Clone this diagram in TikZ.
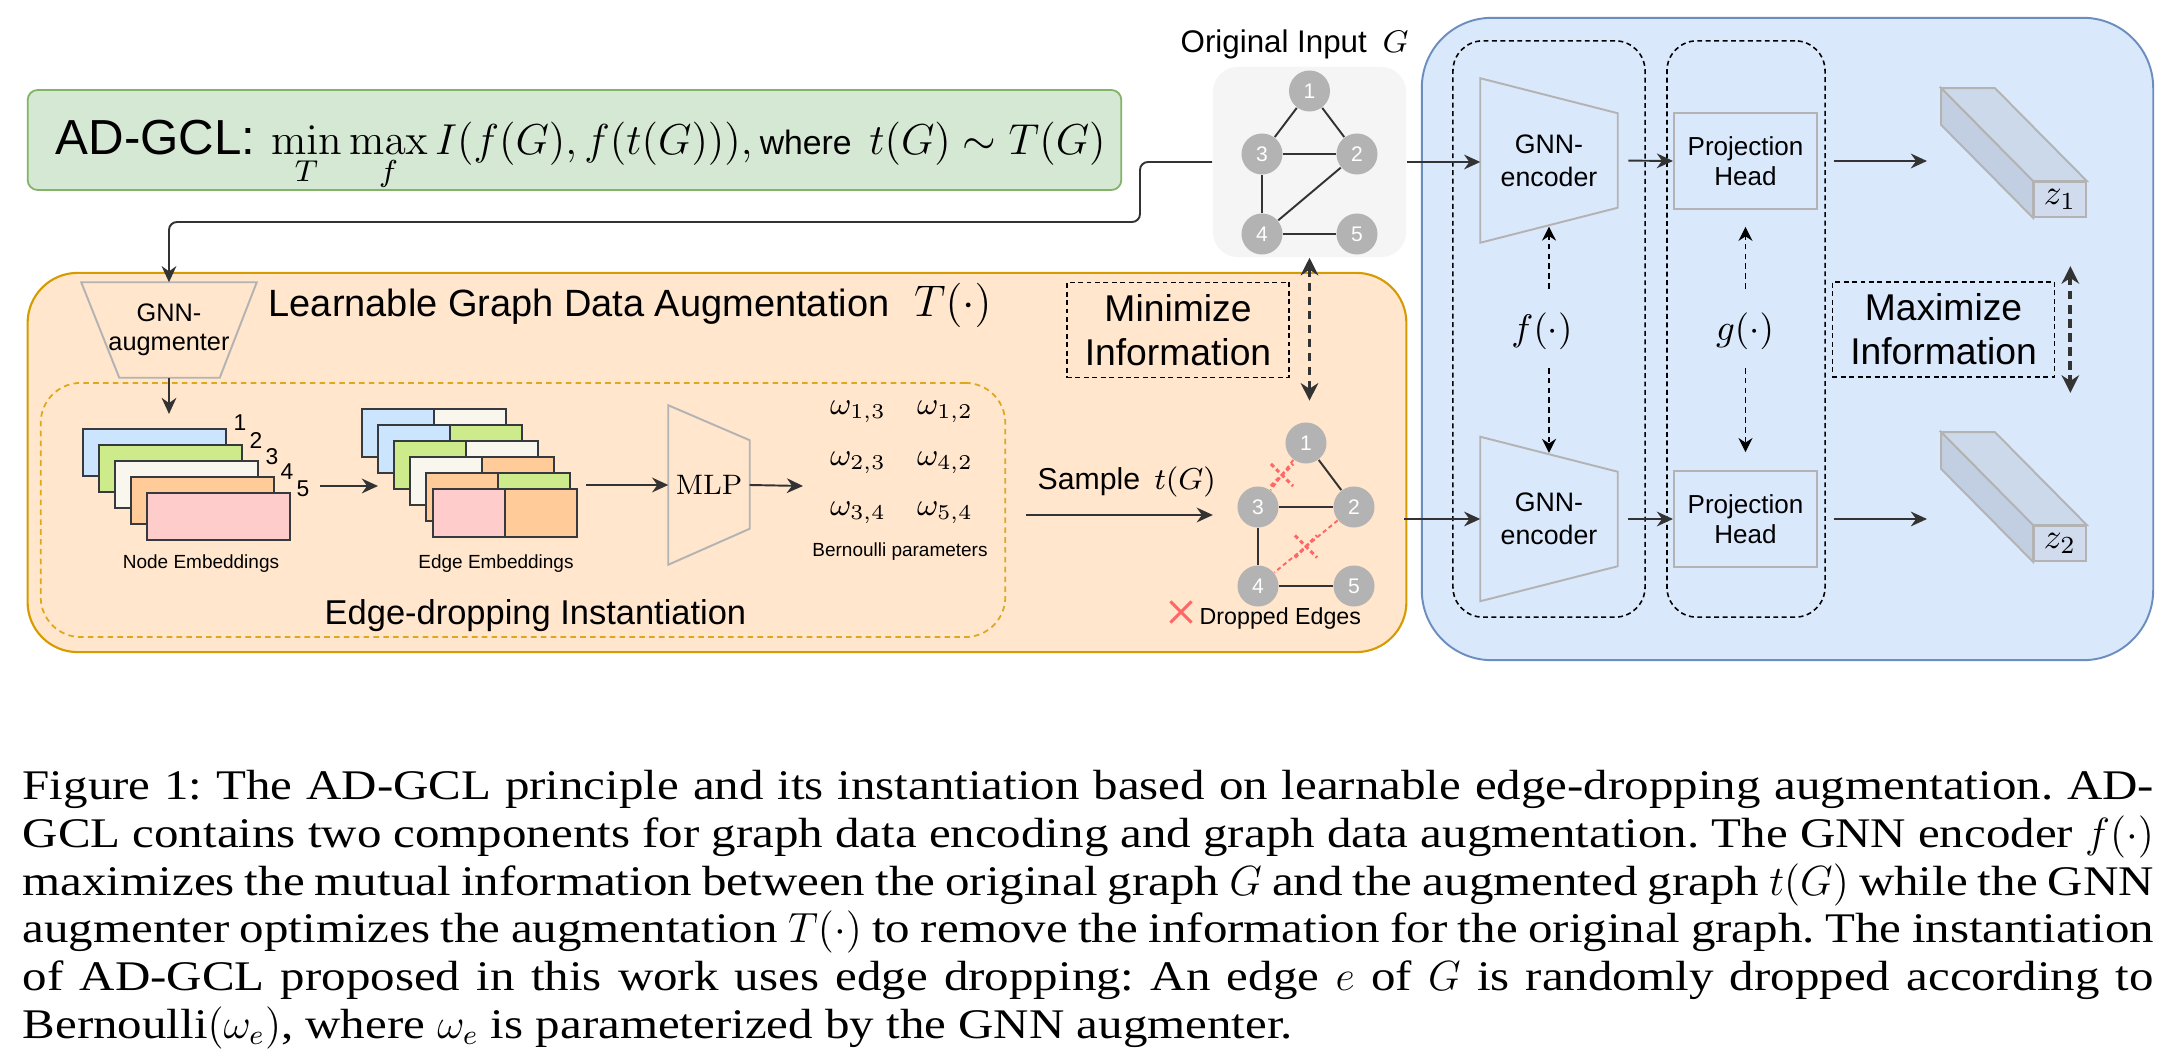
\RequirePackage{fix-cm}
\documentclass[tikz,border=0pt]{standalone}
\usepackage[no-math]{fontspec}
\setmainfont{Liberation Serif}
\setsansfont{Liberation Sans}
\newfontfamily\capfont[FakeStretch=1.16]{Liberation Serif}
\usetikzlibrary{arrows.meta,calc,shapes.misc}

\definecolor{goalfill}{HTML}{D5E8D4}
\definecolor{goaldraw}{HTML}{82B366}
\definecolor{augfill}{HTML}{FFE6CC}
\definecolor{augdraw}{HTML}{D79B00}
\definecolor{instdraw}{HTML}{DDA81E}
\definecolor{encfill}{HTML}{DAE8FC}
\definecolor{encdraw}{HTML}{6C8EBF}
\definecolor{inputfill}{HTML}{F5F5F5}
\definecolor{nodegray}{HTML}{B3B3B3}
\definecolor{trapgray}{HTML}{B3B3B3}
\definecolor{linegray}{HTML}{333333}
\definecolor{dropred}{HTML}{FF6666}
\definecolor{embdraw}{HTML}{36393D}
\definecolor{embblue}{HTML}{CCE5FF}
\definecolor{embgreen}{HTML}{CDEB8B}
\definecolor{embcream}{HTML}{F9F7ED}
\definecolor{emborange}{HTML}{FFCC99}
\definecolor{embpink}{HTML}{FFCCCC}
\definecolor{zfront}{HTML}{D0DCEE}
\definecolor{ztop}{HTML}{CCD9EA}
\definecolor{zside}{HTML}{C2CFE3}

\newcommand{\fsz}[2]{\fontsize{#1}{#2}\selectfont}
\newlength{\capw}
\setlength{\capw}{21.3cm}

\begin{document}
\begin{tikzpicture}[
		x=0.01cm, y=-0.01cm,
		font=\sffamily,
		arr/.style={draw=linegray, line width=0.55pt, -{Stealth[length=4.6pt, width=4.2pt]}},
		goalbox/.style={draw=goaldraw, fill=goalfill, line width=0.5pt, rounded corners=0.1cm, minimum width=10.93cm, minimum height=1cm},
		augarea/.style={draw=augdraw, fill=augfill, line width=0.6pt, rounded corners=0.5cm},
		instarea/.style={draw=instdraw, line width=0.5pt, dash pattern=on 1.6pt off 1.2pt, rounded corners=0.4cm},
		encarea/.style={draw=encdraw, fill=encfill, line width=0.55pt, rounded corners=0.7cm},
		funcarea/.style={draw=black, line width=0.45pt, dash pattern=on 1.4pt off 1pt, rounded corners=0.3cm, minimum height=5.76cm},
		inputarea/.style={fill=inputfill, rounded corners=0.25cm, minimum width=1.93cm, minimum height=1.9cm},
		infobox/.style={draw=black, line width=0.45pt, dash pattern=on 1.4pt off 1pt, align=center, minimum width=2.22cm, minimum height=0.95cm, font=\sffamily\fsz{10.6}{12.6}},
		label/.style={anchor=base west, inner sep=0pt},
		gnode/.style={circle, fill=nodegray, text=white, minimum size=0.41cm, inner sep=0pt, font=\sffamily\fsz{6}{7}},
		gedge/.style={draw=linegray, line width=0.55pt},
		dropped/.style={draw=dropred, line width=0.55pt, dash pattern=on 1.2pt off 0.9pt},
		dropx/.style={cross out, draw=dropred, line width=0.9pt, minimum size=0.19cm, inner sep=0pt},
		embcell/.style={draw=embdraw, line width=0.55pt, inner sep=0pt, anchor=north west, minimum height=0.47cm},
		trapbox/.style={inner sep=0pt, align=center},
		trapline/.style={draw=trapgray, line width=0.55pt},
		projbox/.style={draw=trapgray, line width=0.55pt, minimum width=1.43cm, minimum height=0.96cm, align=center, font=\sffamily\fsz{7.4}{8.7}},
		zface/.style={draw=trapgray, line width=0.5pt, fill=zfront, minimum width=0.52cm, minimum height=0.35cm, inner sep=0pt, font=\fsz{10}{12}},
		dasharr/.style={draw=black, line width=0.45pt, dash pattern=on 1.6pt off 1.2pt, -{Stealth[length=4pt, width=4pt]}},
		dblarr/.style={draw=linegray, line width=1.1pt, dash pattern=on 2.4pt off 1.6pt, {Stealth[length=5pt, width=5pt]}-{Stealth[length=5pt, width=5pt]}},
		smalltext/.style={font=\sffamily\fsz{5.4}{6.5}},
	]
	\useasboundingbox (0,0) rectangle (2174,1061);
	\fill[white] (0,0) rectangle (2174,1061);

	% objective
	\node[goalbox] (goal) at (574.5,140) {};
	\node[label] (goaltext) at (55,155) {{\fsz{14}{16}AD-GCL:}\hspace{4.5pt}{\fsz{12.3}{15}$\displaystyle\min_{T}\max_{f} I(f(G),f(t(G))),$}\hspace{2pt}{\fsz{9.6}{11}where}\hspace{5pt}{\fsz{12.3}{15}$t(G)\sim T(G)$}};

	% containers
	\node[augarea, minimum width=13.78cm, minimum height=3.79cm] (augarea) at (717,462.5) {};
	\node[instarea, minimum width=9.64cm, minimum height=2.54cm] (inst) at (523,510) {};
	\node[encarea, minimum width=7.31cm, minimum height=6.42cm] (encarea) at (1787.5,339) {};
	\node[funcarea, minimum width=1.92cm] (fbox) at (1549,329) {};
	\node[funcarea, minimum width=1.58cm] (gbox) at (1746,329) {};

	% original input graph
	\node[inputarea] (orig) at (1309.5,162) {};
	\node[label, font=\sffamily\fsz{8.9}{11}] (origtitle) at (1180,53) {Original Input\hspace{4.5pt}$G$};
	\node[gnode] (o1) at (1309.5,91) {1};
	\node[gnode] (o2) at (1357,154) {2};
	\node[gnode] (o3) at (1262,154) {3};
	\node[gnode] (o4) at (1262,234) {4};
	\node[gnode] (o5) at (1357,234) {5};
	\draw[gedge] (o1) -- (o3) (o1) -- (o2) (o3) -- (o2) (o3) -- (o4) (o4) -- (o2) (o4) -- (o5);

	% augmenter
	\node[trapbox, minimum width=1.74cm, minimum height=0.94cm, font=\sffamily\fsz{7.2}{8.3}] (aug) at (169,330) {GNN-\\augmenter};
	\draw[trapline] (aug.north west) -- (aug.north east) -- ($(aug.south east)+(-37,0)$) -- ($(aug.south west)+(38,0)$) -- cycle;
	\coordinate (route) at (1140,222);
	\draw[arr, rounded corners=0.08cm] (orig.west) -| (route) -| (aug.north);
	\node[label, font=\sffamily\fsz{10.8}{13}] (augtitle) at (268,317) {Learnable Graph Data Augmentation\hspace{7pt}{\fsz{12.6}{15}$T(\cdot)$}};

	% node embeddings
	\foreach \c [count=\i from 0] in {embblue,embgreen,embcream,emborange,embpink}
		\node[embcell, fill=\c, minimum width=1.43cm] (ne\i) at (82+16*\i, 428+16*\i) {};
	\foreach \n/\xx/\yy in {1/240/423, 2/256/441, 3/272/457, 4/287/472, 5/303/489}
		\node[font=\sffamily\fsz{6.5}{7}, inner sep=0pt] (num\n) at (\xx,\yy) {\n};
	\node[smalltext, anchor=base] (nelabel) at (201,569) {Node Embeddings};
	\coordinate (nein) at (169,414);
	\draw[arr] (aug.south) -- (nein);

	% edge embeddings
	\foreach \l/\r/\xx [count=\i from 0] in {embblue/embcream/361, embblue/embgreen/377, embgreen/embcream/393, embcream/emborange/409, emborange/embgreen/425, embpink/emborange/432} {
		\node[embcell, fill=\l, minimum width=0.72cm, minimum height=0.48cm] (eel\i) at (\xx, 408+16*\i) {};
		\node[embcell, fill=\r, minimum width=0.72cm, minimum height=0.48cm] (eer\i) at (\xx+72, 408+16*\i) {};
	}
	\node[smalltext, anchor=base] (eelabel) at (496,569) {Edge Embeddings};
	\coordinate (neout) at (320,486);
	\coordinate (eein) at (378,486);
	\draw[arr] (neout) -- (eein);

	% MLP and Bernoulli parameters
	\node[trapbox, minimum width=0.8cm, minimum height=1.58cm, font=\fsz{8}{9}] (mlp) at (709,485) {$\mathrm{MLP}$};
	\draw[trapline] (mlp.north west) -- ($(mlp.north east)+(0,35)$) -- ($(mlp.south east)+(0,-36)$) -- (mlp.south west) -- cycle;
	\draw[arr, shorten <=2.4pt] (eer5.east |- mlp) -- (mlp.west);
	\coordinate (omegain) at (803,486);
	\draw[arr] (mlp.east) -- (omegain);
	\foreach \lab/\xx/\yy [count=\i] in {{1,3}/858/412, {1,2}/945/412, {2,3}/858/463, {4,2}/945/463, {3,4}/858/513, {5,4}/945/513}
		\node[font=\fsz{9}{11}] (w\i) at (\xx,\yy) {$\omega_{\lab}$};
	\node[smalltext, anchor=base] (bplabel) at (900,557) {Bernoulli parameters};
	\node[label, font=\sffamily\fsz{9.8}{12}] (insttitle) at (324,625) {Edge-dropping Instantiation};

	% sampled graph
	\node[infobox] (minbox) at (1178,330) {Minimize\\Information};
	\node[label, font=\sffamily\fsz{8.6}{10}] (sample) at (1037,490) {Sample\hspace{4pt}$t(G)$};
	\node[gnode] (t1) at (1306,443) {1};
	\node[gnode] (t2) at (1354,507) {2};
	\node[gnode] (t3) at (1258,507) {3};
	\node[gnode] (t4) at (1258,586) {4};
	\node[gnode] (t5) at (1354,586) {5};
	\draw[gedge] (t1) -- (t2) (t3) -- (t2) (t3) -- (t4) (t4) -- (t5);
	\draw[dropped] (t1) -- (t3) node[dropx, midway] (x13) {};
	\draw[dropped] (t2) -- (t4) node[dropx, midway] (x24) {};
	\node[dropx, minimum size=0.18cm] (xlegend) at (1181,612) {};
	\node[label, font=\sffamily\fsz{6.6}{8}] (droptext) at (1199,625) {Dropped Edges};
	\coordinate (smpl) at (1026,515);
	\draw[arr, shorten >=6.8pt] (smpl) -- (smpl -| t3.west);
	\draw[dblarr, shorten >=6pt] (orig.south) -- (orig.south |- t1.north);

	% encoders and projection heads
	\node[trapbox, minimum width=1.36cm, minimum height=1.63cm, font=\sffamily\fsz{7.6}{9.3}] (enc1) at (1549,160.5) {GNN-\\encoder};
	\node[trapbox, minimum width=1.36cm, minimum height=1.63cm, font=\sffamily\fsz{7.6}{9.3}] (enc2) at (1549,519) {GNN-\\encoder};
	\foreach \e in {enc1,enc2}
		\draw[trapline] (\e.north west) -- ($(\e.north east)+(0,35)$) -- ($(\e.south east)+(0,-35)$) -- (\e.south west) -- cycle;
	\node[projbox] (proj1) at (1745.5,161) {Projection\\Head};
	\node[projbox] (proj2) at (1745.5,519) {Projection\\Head};
	\draw[arr] (orig.east) -- (orig.east -| enc1.west);
	\coordinate (tgout) at (1404,519);
	\draw[arr] (tgout) -- (enc2.west);
	\draw[arr, shorten <=3pt] (enc1.east) -- (proj1.west);
	\draw[arr, shorten <=3pt] (enc2.east) -- (proj2.west);

	% representations
	\node[zface] (z1) at (2060,199.5) {$z_1$};
	\node[zface] (z2) at (2060,543.5) {$z_2$};
	\foreach \z in {z1,z2} {
		\filldraw[trapline, fill=ztop] ($(\z.north west)+(-92,-93)$) -- ($(\z.north east)+(-92,-93)$) -- (\z.north east) -- (\z.north west) -- cycle;
		\filldraw[trapline, fill=zside] ($(\z.north west)+(-92,-93)$) -- (\z.north west) -- (\z.south west) -- ($(\z.south west)+(-92,-93)$) -- cycle;
	}
	\coordinate (z1in) at (1927,161);
	\coordinate (z2in) at (1927,519);
	\draw[arr, shorten <=4.5pt] (proj1.east) -- (z1in);
	\draw[arr, shorten <=4.5pt] (proj2.east) -- (z2in);

	\node[font=\fsz{10.5}{12}] (flabel) at (1542,331) {$f(\cdot)$};
	\node[font=\fsz{10.5}{12}] (glabel) at (1745,331) {$g(\cdot)$};
	\draw[dasharr, shorten <=12pt, shorten >=-4.6pt] (enc1.south |- flabel) -- (enc1.south);
	\draw[dasharr, shorten <=10.5pt, shorten >=-4.6pt] (enc2.north |- flabel) -- (enc2.north);
	\draw[dasharr, shorten <=12pt, shorten >=4.8pt] (proj1.south |- glabel) -- (proj1.south);
	\draw[dasharr, shorten <=10.5pt, shorten >=5.1pt] (proj2.north |- glabel) -- (proj2.north);
	\node[infobox] (maxbox) at (1943.5,329.5) {Maximize\\Information};
	\draw[dblarr] ($(maxbox.north east)+(15,-15)$) -- ($(maxbox.south east)+(15,15)$);

	% caption
	\node[anchor=north west, inner sep=0pt, align=left, font=\capfont\fsz{12}{13.55}\frenchspacing] (caption) at (22,770) {%
		\makebox[\capw][s]{Figure 1: The AD-GCL principle and its instantiation based on learnable edge-dropping augmentation. AD-}\\
		\makebox[\capw][s]{GCL contains two components for graph data encoding and graph data augmentation. The GNN encoder $f(\cdot)$}\\
		\makebox[\capw][s]{maximizes the mutual information between the original graph $G$ and the augmented graph $t(G)$ while the GNN}\\
		\makebox[\capw][s]{augmenter optimizes the augmentation $T(\cdot)$ to remove the information for the original graph. The instantiation}\\
		\makebox[\capw][s]{of AD-GCL proposed in this work uses edge dropping: An edge $e$ of $G$ is randomly dropped according to}\\
		\makebox[\capw][l]{Bernoulli$(\omega_e)$, where $\omega_e$ is parameterized by the GNN augmenter.}};
\end{tikzpicture}
\end{document}
